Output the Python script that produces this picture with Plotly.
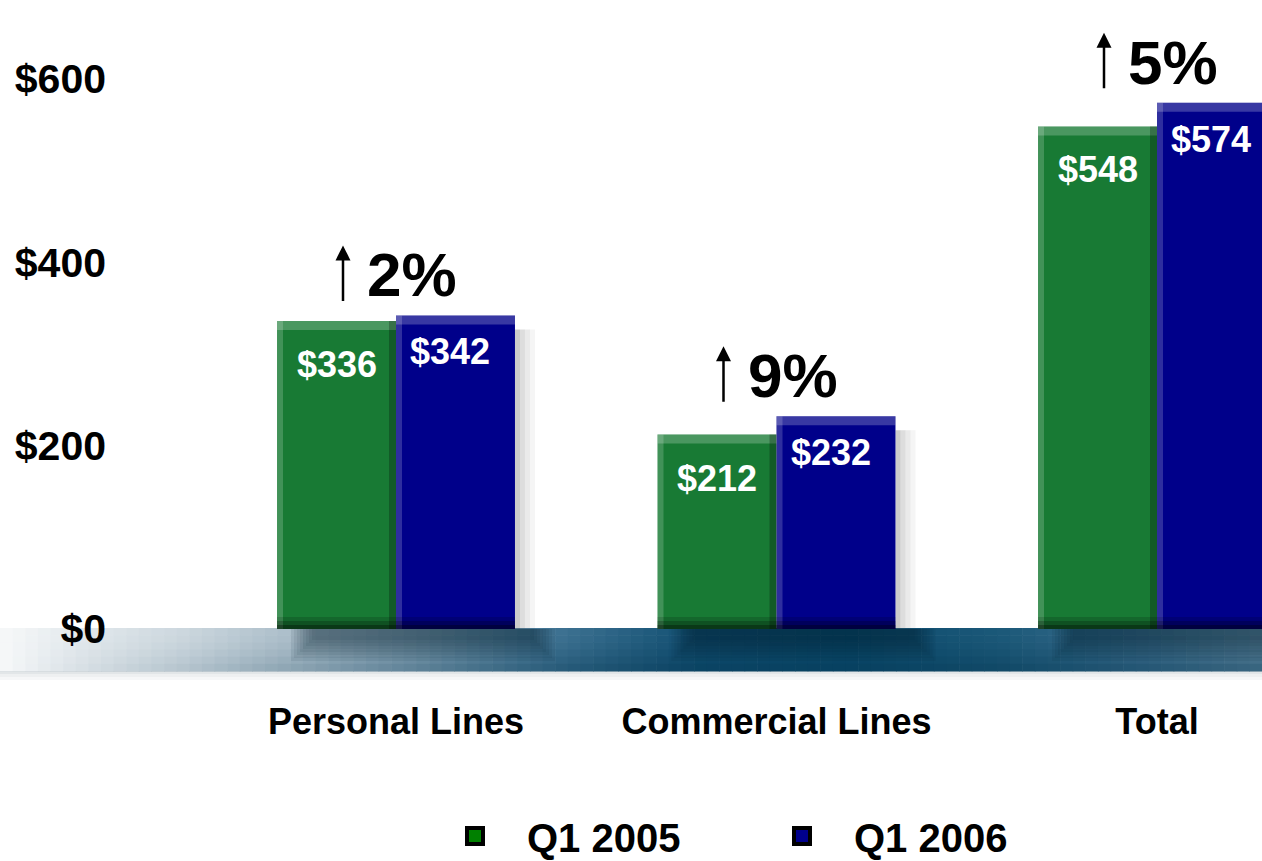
import plotly.graph_objects as go

# ---------------- data ----------------
categories = ["Personal Lines", "Commercial Lines", "Total"]
q1_2005 = [336, 212, 548]
q1_2006 = [342, 232, 574]
pct_change = ["2%", "9%", "5%"]
series_names = ["Q1 2005", "Q1 2006"]
y_tick_values = [0, 200, 400, 600]
y_tick_labels = ["$0", "$200", "$400", "$600"]

# ---------------- style ----------------
GREEN = "#187a34"
BLUE = "#00008a"
LEG_GREEN = "#008000"
LEG_BLUE = "#00008c"
FONT = "Liberation Sans, Arial, sans-serif"

W, H = 1262, 861
ML, MB = 112, 164
plot_w = W - ML
plot_h = H - MB
px_per_cat = 380.5
x0 = -284 / px_per_cat
x1 = x0 + plot_w / px_per_cat
px_per_unit = 0.917
zero_px = 629
y_top = zero_px / px_per_unit
y_bot = -(plot_h - zero_px) / px_per_unit
BW = 0.3127  # bar width in category units

def ux(px):  # pixel width -> x units
    return px / px_per_cat

def uy(px):  # pixel height -> y units
    return px / px_per_unit

idx = list(range(len(categories)))

fig = go.Figure()
fig.add_trace(go.Bar(x=idx, y=q1_2005, width=BW, offset=-BW, marker=dict(color=GREEN, line=dict(width=0)),
                     showlegend=False, name=series_names[0]))
fig.add_trace(go.Bar(x=idx, y=q1_2006, width=BW, offset=0, marker=dict(color=BLUE, line=dict(width=0)),
                     showlegend=False, name=series_names[1]))
# legend entries
fig.add_trace(go.Scatter(x=[None], y=[None], mode="markers", name="<b>%s</b>" % series_names[0],
                         marker=dict(symbol="square", size=16, color=LEG_GREEN, line=dict(color="black", width=4))))
fig.add_trace(go.Scatter(x=[None], y=[None], mode="markers", name="<b>%s</b>" % series_names[1],
                         marker=dict(symbol="square", size=16, color=LEG_BLUE, line=dict(color="black", width=4))))

shapes = []

# ---- floor band (horizontal gradient) ----
stops = [(0, "#f7f9fa"), (80, "#e3e9ed"), (180, "#cdd8df"), (300, "#a9bcc8"), (420, "#7d9cb0"),
         (560, "#3e7292"), (700, "#114f72"), (850, "#0b4a6d"), (1000, "#1c5979"), (1150, "#3f7090"),
         (1262, "#5f87a0")]

def hex2rgb(h):
    h = h.lstrip("#")
    return tuple(int(h[i:i + 2], 16) for i in (0, 2, 4))

def mix(px, dark=0.0):
    for (a, ca), (b, cb) in zip(stops[:-1], stops[1:]):
        if a <= px <= b:
            t = (px - a) / (b - a)
            r1, g1, b1 = hex2rgb(ca)
            r2, g2, b2 = hex2rgb(cb)
            r, g, bb = r1 + (r2 - r1) * t, g1 + (g2 - g1) * t, b1 + (b2 - b1) * t
            dr, dg, db = 2, 52, 79
            r, g, bb = r + (dr - r) * dark, g + (dg - g) * dark, bb + (db - bb) * dark
            return "rgb(%d,%d,%d)" % (r, g, bb)
    return stops[-1][1]

band_top = uy(1)
band_h = 43
N = 100
rows = 6
for k in range(N):
    pa = k * W / N
    pb = (k + 1) * W / N + 0.6
    for rr in range(rows):
        ya = band_top - uy(band_h * rr / rows)
        yb = band_top - uy(band_h * (rr + 1) / rows) - uy(0.6)
        dark = min(0.4, 0.4 * pa / 650) * (rr / (rows - 1)) ** 1.5
        shapes.append(dict(type="rect", xref="paper", yref="y", layer="below",
                           x0=(pa - ML) / plot_w, x1=(pb - ML) / plot_w, y0=yb, y1=ya,
                           fillcolor=mix((pa + pb) / 2, dark), line=dict(width=0)))
band_bot = band_top - uy(band_h)
# soft shadow below band
for j, op in enumerate([0.25, 0.15, 0.08]):
    shapes.append(dict(type="rect", xref="paper", yref="y", layer="below",
                       x0=-ML / plot_w, x1=1, y0=band_bot - uy(3 * (j + 1)), y1=band_bot - uy(3 * j),
                       fillcolor="#8a9aa4", opacity=op, line=dict(width=0)))

# ---- bar shadows and bevels (derived from data) ----
for i in idx:
    g, b = q1_2005[i], q1_2006[i]
    left, mid, right = i - BW, i, i + BW
    # shadow on the floor beneath the group
    for j in range(8):
        shapes.append(dict(type="rect", xref="x", yref="y", layer="below",
                           x0=left + ux(14 + 3 * j), x1=right + ux(40 - 3 * j),
                           y0=-uy(32 - 3 * j), y1=0, fillcolor="#001a2a", opacity=0.07, line=dict(width=0)))
    # drop shadow to the right of the blue bar
    for j, op in enumerate([0.30, 0.20, 0.12, 0.06]):
        shapes.append(dict(type="rect", xref="x", yref="y", layer="below",
                           x0=right + ux(5 * j), x1=right + ux(5 * (j + 1)),
                           y0=0, y1=b - uy(14), fillcolor="#555555", opacity=op, line=dict(width=0)))
    for (l, r, v) in [(left, mid, g), (mid, right, b)]:
        # top highlight
        shapes.append(dict(type="rect", xref="x", yref="y", layer="above",
                           x0=l, x1=r, y0=v - uy(9), y1=v, fillcolor="white", opacity=0.22, line=dict(width=0)))
        # left highlight
        shapes.append(dict(type="rect", xref="x", yref="y", layer="above",
                           x0=l, x1=l + ux(6), y0=0, y1=v, fillcolor="white", opacity=0.18, line=dict(width=0)))
        # bottom dark edge
        for j, op in enumerate([0.25, 0.35, 0.5]):
            shapes.append(dict(type="rect", xref="x", yref="y", layer="above",
                               x0=l, x1=r, y0=0, y1=uy(12 - 4 * j), fillcolor="black", opacity=op * 0.6,
                               line=dict(width=0)))
    # dark right edge of green bar
    shapes.append(dict(type="rect", xref="x", yref="y", layer="above",
                       x0=mid - ux(7), x1=mid, y0=0, y1=g, fillcolor="black", opacity=0.25, line=dict(width=0)))

annotations = []
for i in idx:
    g, b = q1_2005[i], q1_2006[i]
    annotations.append(dict(x=i - BW / 2, y=g, xref="x", yref="y", text="<b>$%d</b>" % g, showarrow=False,
                            yanchor="top", yshift=-21, font=dict(family=FONT, size=36, color="white")))
    annotations.append(dict(x=i + BW / 2 - ux(5), y=b, xref="x", yref="y", text="<b>$%d</b>" % b, showarrow=False,
                            yanchor="top", yshift=-14, font=dict(family=FONT, size=36, color="white")))
    top = max(g, b)
    annotations.append(dict(x=i + ux(16), y=top, xref="x", yref="y", text="<b>%s</b>" % pct_change[i],
                            showarrow=False, yanchor="bottom", yshift=4,
                            font=dict(family=FONT, size=62, color="black")))
    annotations.append(dict(x=i - ux(53), y=top, xref="x", yref="y", text="", showarrow=True,
                            ax=0, ay=57, yshift=70, arrowhead=2, arrowsize=1.2, arrowwidth=2.5,
                            arrowcolor="black", standoff=0, startstandoff=0))

fig.update_layout(
    width=W, height=H,
    margin=dict(l=ML, r=0, t=0, b=MB, pad=0, autoexpand=False),
    paper_bgcolor="white", plot_bgcolor="white",
    barmode="overlay",
    font=dict(family=FONT, color="black"),
    xaxis=dict(range=[x0, x1], tickvals=idx, ticktext=["<b>%s</b>" % c for c in categories],
               tickfont=dict(family=FONT, size=36, color="black"), showgrid=False, zeroline=False,
               showline=False, ticks="", fixedrange=True, automargin=False),
    yaxis=dict(range=[y_bot, y_top], tickvals=y_tick_values, ticktext=["<b>%s</b>" % t for t in y_tick_labels],
               tickfont=dict(family=FONT, size=41, color="black"), showgrid=False, zeroline=False,
               showline=False, ticks="", fixedrange=True, automargin=False, ticklabelstandoff=5),
    legend=dict(orientation="h", x=(423 - ML) / plot_w, xanchor="left", y=(plot_h - 836) / plot_h,
                yanchor="middle", font=dict(family=FONT, size=40, color="black"),
                itemwidth=94, entrywidth=218, bgcolor="rgba(0,0,0,0)"),
    shapes=shapes,
    annotations=annotations,
    showlegend=True,
)

fig.write_html("out.html")
